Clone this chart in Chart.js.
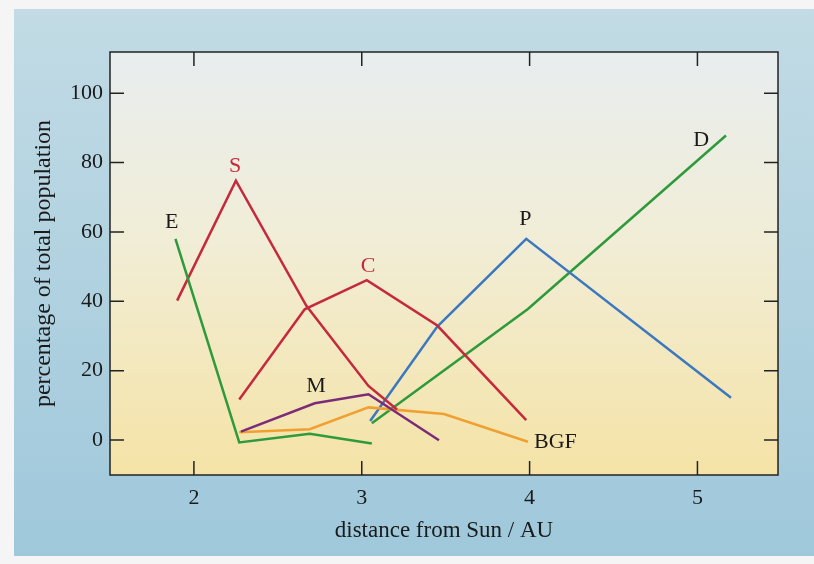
<!DOCTYPE html>
<html>
<head>
<meta charset="utf-8">
<script src="https://cdn.jsdelivr.net/npm/chart.js@4.4.1/dist/chart.umd.min.js"></script>
<style>
  html, body { margin: 0; padding: 0; background: #fff; }
  #wrap { width: 814px; height: 564px; }
</style>
</head>
<body>
<div id="wrap"><canvas id="grafico"></canvas></div>
<script>
// ticks
const xTicks = [2, 3, 4, 5];
const yTicks = [0, 20, 40, 60, 80, 100];

// series: distance (AU) and percentage
const eDist = [1.89, 2.27, 2.69, 3.06];
const ePct  = [58, -0.7, 1.8, -1];

const sDist = [1.90, 2.25, 2.67, 3.04, 3.21];
const sPct  = [40.2, 74.8, 38.7, 15.6, 8.8];

const cDist = [2.27, 2.66, 3.03, 3.45, 3.98];
const cPct  = [11.7, 37.7, 46.1, 33.0, 5.7];

const mDist = [2.28, 2.72, 3.04, 3.46];
const mPct  = [2.4, 10.6, 13.2, -0.1];

const bgfDist = [2.27, 2.69, 3.04, 3.49, 3.99];
const bgfPct  = [2.2, 3.1, 9.4, 7.5, -0.5];

const pDist = [3.05, 3.45, 3.98, 5.20];
const pPct  = [5.5, 32.7, 58.0, 12.2];

const dDist = [3.06, 3.99, 5.17];
const dPct  = [4.8, 37.8, 87.8];

// curve names written next to the lines (AU, %)
const curveNames = ['S', 'E', 'C', 'M', 'P', 'D', 'BGF'];
const nameDist   = [2.245, 1.868, 3.038, 2.727, 3.975, 5.023, 4.154];
const namePct    = [79.0, 62.9, 50.2, 15.4, 63.8, 86.6, -0.6];

const RED = '#c42a3c';
const nameColors = [RED, '#1a1a1a', RED, '#1a1a1a', '#1a1a1a', '#1a1a1a', '#1a1a1a'];
const SERIF = "'Liberation Serif', 'DejaVu Serif', serif";

function pts(xs, ys) {
  return xs.map((x, i) => ({ x: x, y: ys[i] }));
}

function serie(label, xs, ys, color) {
  return {
    label: label,
    data: pts(xs, ys),
    borderColor: color,
    borderWidth: 2.5,
    pointRadius: 0,
    tension: 0,
    fill: false
  };
}

const fondo = {
  id: 'fondo',
  beforeDraw(chart) {
    const ctx = chart.ctx;
    const a = chart.chartArea;
    ctx.save();
    ctx.fillStyle = '#f4f5f4';
    ctx.fillRect(0, 0, chart.width, chart.height);
    let g = ctx.createLinearGradient(0, 9, 0, 556);
    g.addColorStop(0, '#c2dbe5');
    g.addColorStop(1, '#9fc8db');
    ctx.fillStyle = g;
    ctx.fillRect(14, 9, chart.width - 14, 547);
    g = ctx.createLinearGradient(0, a.top, 0, a.bottom);
    g.addColorStop(0, '#e8edef');
    g.addColorStop(0.45, '#f1edd6');
    g.addColorStop(1, '#f5e3a6');
    ctx.fillStyle = g;
    ctx.fillRect(a.left, a.top, a.right - a.left, a.bottom - a.top);
    ctx.restore();
  }
};

const marco = {
  id: 'marco',
  afterDraw(chart) {
    const ctx = chart.ctx;
    const a = chart.chartArea;
    const sx = chart.scales.x, sy = chart.scales.y;
    const len = 14;
    ctx.save();
    ctx.strokeStyle = '#222';
    ctx.lineWidth = 1.5;
    ctx.strokeRect(a.left, a.top, a.right - a.left, a.bottom - a.top);
    ctx.beginPath();
    xTicks.forEach(v => {
      const px = sx.getPixelForValue(v);
      ctx.moveTo(px, a.bottom); ctx.lineTo(px, a.bottom - len);
      ctx.moveTo(px, a.top); ctx.lineTo(px, a.top + len);
    });
    yTicks.forEach(v => {
      const py = sy.getPixelForValue(v);
      ctx.moveTo(a.left, py); ctx.lineTo(a.left + len, py);
      ctx.moveTo(a.right, py); ctx.lineTo(a.right - len, py);
    });
    ctx.stroke();

    ctx.font = '22px ' + SERIF;
    ctx.textAlign = 'center';
    ctx.textBaseline = 'middle';
    curveNames.forEach((t, i) => {
      ctx.fillStyle = nameColors[i];
      ctx.fillText(t, sx.getPixelForValue(nameDist[i]), sy.getPixelForValue(namePct[i]));
    });
    ctx.restore();
  }
};

new Chart(document.getElementById('grafico').getContext('2d'), {
  type: 'line',
  data: {
    datasets: [
      serie('E', eDist, ePct, '#2e9a3c'),
      serie('S', sDist, sPct, RED),
      serie('C', cDist, cPct, RED),
      serie('M', mDist, mPct, '#7b2b78'),
      serie('BGF', bgfDist, bgfPct, '#f0a030'),
      serie('P', pDist, pPct, '#3b78bf'),
      serie('D', dDist, dPct, '#2e9a3c')
    ]
  },
  options: {
    responsive: true,
    maintainAspectRatio: false,
    animation: false,
    layout: { padding: { left: 0, top: 52, right: 36, bottom: 0 } },
    plugins: {
      legend: { display: false },
      tooltip: { enabled: false }
    },
    scales: {
      x: {
        type: 'linear',
        min: 1.5,
        max: 5.48,
        afterBuildTicks: s => { s.ticks = xTicks.map(v => ({ value: v })); },
        afterFit: s => { s.height = 89; },
        grid: { display: false, drawTicks: false, tickLength: 0 },
        border: { display: false },
        ticks: {
          color: '#1a1a1a',
          padding: 10,
          maxRotation: 0,
          font: { family: SERIF, size: 22 }
        },
        title: {
          display: true,
          text: 'distance from Sun / AU',
          color: '#1a1a1a',
          padding: { top: 0, bottom: 19 },
          font: { family: SERIF, size: 23 }
        }
      },
      y: {
        min: -10.1,
        max: 111.9,
        afterBuildTicks: s => { s.ticks = yTicks.map(v => ({ value: v })); },
        afterFit: s => { s.width = 110; },
        grid: { display: false, drawTicks: false, tickLength: 0 },
        border: { display: false },
        ticks: {
          color: '#1a1a1a',
          padding: 7,
          font: { family: SERIF, size: 22 }
        },
        title: {
          display: true,
          text: 'percentage of total population',
          color: '#1a1a1a',
          padding: { top: 29, bottom: 0 },
          font: { family: SERIF, size: 24 }
        }
      }
    }
  },
  plugins: [fondo, marco]
});
</script>
</body>
</html>
